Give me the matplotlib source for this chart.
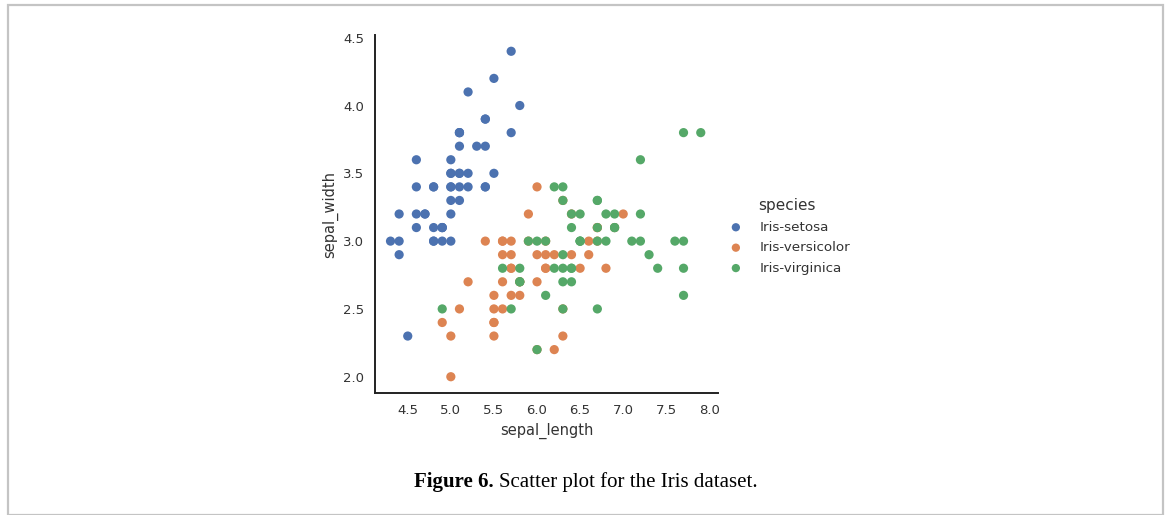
import matplotlib
matplotlib.use("Agg")
import matplotlib.pyplot as plt
from matplotlib.patches import Rectangle

species = ["Iris-setosa", "Iris-versicolor", "Iris-virginica"]
colors = ["#4C72B0", "#DD8452", "#55A868"]

setosa_length = [5.1, 4.9, 4.7, 4.6, 5.0, 5.4, 4.6, 5.0, 4.4, 4.9, 5.4, 4.8, 4.8, 4.3, 5.8, 5.7, 5.4, 5.1, 5.7, 5.1,
                 5.4, 5.1, 4.6, 5.1, 4.8, 5.0, 5.0, 5.2, 5.2, 4.7, 4.8, 5.4, 5.2, 5.5, 4.9, 5.0, 5.5, 4.9, 4.4, 5.1,
                 5.0, 4.5, 4.4, 5.0, 5.1, 4.8, 5.1, 4.6, 5.3, 5.0]
setosa_width = [3.5, 3.0, 3.2, 3.1, 3.6, 3.9, 3.4, 3.4, 2.9, 3.1, 3.7, 3.4, 3.0, 3.0, 4.0, 4.4, 3.9, 3.5, 3.8, 3.8,
                3.4, 3.7, 3.6, 3.3, 3.4, 3.0, 3.4, 3.5, 3.4, 3.2, 3.1, 3.4, 4.1, 4.2, 3.1, 3.2, 3.5, 3.1, 3.0, 3.4,
                3.5, 2.3, 3.2, 3.5, 3.8, 3.0, 3.8, 3.2, 3.7, 3.3]
versicolor_length = [7.0, 6.4, 6.9, 5.5, 6.5, 5.7, 6.3, 4.9, 6.6, 5.2, 5.0, 5.9, 6.0, 6.1, 5.6, 6.7, 5.6, 5.8, 6.2, 5.6,
                     5.9, 6.1, 6.3, 6.1, 6.4, 6.6, 6.8, 6.7, 6.0, 5.7, 5.5, 5.5, 5.8, 6.0, 5.4, 6.0, 6.7, 6.3, 5.6, 5.5,
                     5.5, 6.1, 5.8, 5.0, 5.6, 5.7, 5.7, 6.2, 5.1, 5.7]
versicolor_width = [3.2, 3.2, 3.1, 2.3, 2.8, 2.8, 3.3, 2.4, 2.9, 2.7, 2.0, 3.0, 2.2, 2.9, 2.9, 3.1, 3.0, 2.7, 2.2, 2.5,
                    3.2, 2.8, 2.5, 2.8, 2.9, 3.0, 2.8, 3.0, 2.9, 2.6, 2.4, 2.4, 2.7, 2.7, 3.0, 3.4, 3.1, 2.3, 3.0, 2.5,
                    2.6, 3.0, 2.6, 2.3, 2.7, 3.0, 2.9, 2.9, 2.5, 2.8]
virginica_length = [6.3, 5.8, 7.1, 6.3, 6.5, 7.6, 4.9, 7.3, 6.7, 7.2, 6.5, 6.4, 6.8, 5.7, 5.8, 6.4, 6.5, 7.7, 7.7, 6.0,
                    6.9, 5.6, 7.7, 6.3, 6.7, 7.2, 6.2, 6.1, 6.4, 7.2, 7.4, 7.9, 6.4, 6.3, 6.1, 7.7, 6.3, 6.4, 6.0, 6.9,
                    6.7, 6.9, 5.8, 6.8, 6.7, 6.7, 6.3, 6.5, 6.2, 5.9]
virginica_width = [3.3, 2.7, 3.0, 2.9, 3.0, 3.0, 2.5, 2.9, 2.5, 3.6, 3.2, 2.7, 3.0, 2.5, 2.8, 3.2, 3.0, 3.8, 2.6, 2.2,
                   3.2, 2.8, 2.8, 2.7, 3.3, 3.2, 2.8, 3.0, 2.8, 3.0, 2.8, 3.8, 2.8, 2.8, 2.6, 3.0, 3.4, 3.1, 3.0, 3.1,
                   3.1, 3.1, 2.7, 3.2, 3.3, 3.0, 2.5, 3.0, 3.4, 3.0]

x_ticks = [4.5, 5.0, 5.5, 6.0, 6.5, 7.0, 7.5, 8.0]
y_ticks = [2.0, 2.5, 3.0, 3.5, 4.0, 4.5]

W, H = 1167, 515
fig = plt.figure(figsize=(W / 100, H / 100), dpi=100)
fig.patch.set_facecolor("white")

# outer frame
fig.patches.append(Rectangle((8 / W, 0), 1155 / W, (H - 5) / H, transform=fig.transFigure,
                             fill=False, edgecolor="#c4c4c4", linewidth=1.6, zorder=0))

ax = fig.add_axes([375 / W, (H - 393) / H, 343 / W, 358 / H])
data = [(setosa_length, setosa_width), (versicolor_length, versicolor_width), (virginica_length, virginica_width)]
for (xs, ys), name, c in zip(data, species, colors):
    ax.scatter(xs, ys, s=44, color=c, edgecolors="none", label=name)

ax.set_xlim(4.12, 8.1)
ax.set_ylim(1.88, 4.52)
ax.set_xticks(x_ticks)
ax.set_yticks(y_ticks)
ax.set_xticklabels([f"{v:.1f}" for v in x_ticks])
ax.set_yticklabels([f"{v:.1f}" for v in y_ticks])
ax.tick_params(length=0, labelsize=9.5, colors="#333333", pad=8)
for side in ["top", "right"]:
    ax.spines[side].set_visible(False)
for side in ["left", "bottom"]:
    ax.spines[side].set_color("#222222")
    ax.spines[side].set_linewidth(1.4)
ax.set_xlabel("sepal_length", fontsize=10.5, color="#333333", labelpad=4)
ax.set_ylabel("sepal_width", fontsize=10.5, color="#333333", labelpad=3.5)

leg = fig.legend(title="species", loc="upper left", bbox_to_anchor=(717 / W, 1 - 193 / H),
                 frameon=False, fontsize=9.7, title_fontsize=11, markerscale=0.9,
                 handletextpad=0.8, labelspacing=0.55, borderaxespad=0)
for t in leg.get_texts():
    t.set_color("#333333")
leg.get_title().set_color("#333333")

cap_bold = fig.text(414 / W, 1 - 482 / H, "Figure 6.", fontsize=15, family="Liberation Serif",
                    fontweight="bold", va="center", ha="left")
fig.canvas.draw()
bb = cap_bold.get_window_extent()
fig.text(bb.x1 / W + 5 / W, 1 - 482 / H, "Scatter plot for the Iris dataset.", fontsize=15,
         family="Liberation Serif", va="center", ha="left")

fig.savefig("out.png", dpi=100)
